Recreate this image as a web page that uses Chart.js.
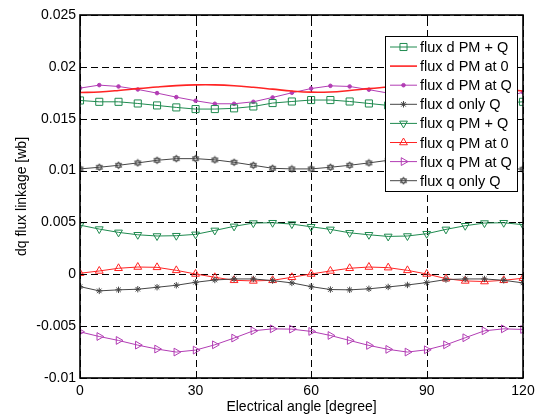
<!DOCTYPE html>
<html>
<head>
<meta charset="utf-8">
<script src="https://cdn.jsdelivr.net/npm/chart.js@4.4.0/dist/chart.umd.min.js"></script>
<style>
  html, body { margin: 0; padding: 0; background: #fff; }
</style>
</head>
<body>
<canvas id="fluxChart" width="541" height="417"></canvas>
<script>
// electrical angle of each sample [degree]
const angles = [0, 5, 10, 15, 20, 25, 30, 35, 40, 45, 50, 55,
                60, 65, 70, 75, 80, 85, 90, 95, 100, 105, 110, 115];

const fluxDPmQ = [0.01676, 0.01663, 0.01663, 0.01647, 0.01628, 0.01609, 0.01593, 0.01593, 0.01600, 0.01618, 0.01651, 0.01666,
                  0.01680, 0.01680, 0.01666, 0.01647, 0.01628, 0.01609, 0.01593, 0.01593, 0.01600, 0.01618, 0.01651, 0.01663];
const fluxDPm0 = [0.01753, 0.01758, 0.01772, 0.01790, 0.01806, 0.01819, 0.01826, 0.01826, 0.01818, 0.01803, 0.01785, 0.01767,
                  0.01756, 0.01758, 0.01772, 0.01790, 0.01806, 0.01819, 0.01826, 0.01826, 0.01818, 0.01803, 0.01785, 0.01767];
const fluxDPmAtQ = [0.01795, 0.01824, 0.01811, 0.01782, 0.01747, 0.01708, 0.01673, 0.01644, 0.01644, 0.01663, 0.01705, 0.01750,
                    0.01791, 0.01817, 0.01811, 0.01780, 0.01747, 0.01708, 0.01673, 0.01644, 0.01644, 0.01663, 0.01705, 0.01755];
const fluxDOnlyQ = [-0.00119, -0.00160, -0.00150, -0.00144, -0.00125, -0.00106, -0.00077, -0.00055, -0.00045, -0.00045, -0.00061, -0.00083,
                    -0.00119, -0.00147, -0.00150, -0.00140, -0.00122, -0.00103, -0.00080, -0.00051, -0.00045, -0.00045, -0.00058, -0.00083];
const fluxQPmQ = [0.00474, 0.00436, 0.00404, 0.00381, 0.00369, 0.00372, 0.00385, 0.00423, 0.00462, 0.00494, 0.00497, 0.00484,
                  0.00458, 0.00433, 0.00400, 0.00381, 0.00365, 0.00369, 0.00391, 0.00433, 0.00468, 0.00494, 0.00497, 0.00478];
const fluxQPm0 = [0.00010, 0.00032, 0.00058, 0.00070, 0.00067, 0.00038, 0.00003, -0.00029, -0.00058, -0.00064, -0.00058, -0.00029,
                  0.00003, 0.00032, 0.00058, 0.00070, 0.00064, 0.00038, 0.00003, -0.00042, -0.00064, -0.00070, -0.00058, -0.00038];
const fluxQPmAtQ = [-0.00555, -0.00600, -0.00638, -0.00683, -0.00721, -0.00750, -0.00731, -0.00680, -0.00615, -0.00545, -0.00526, -0.00529,
                    -0.00551, -0.00590, -0.00638, -0.00686, -0.00724, -0.00750, -0.00728, -0.00680, -0.00612, -0.00545, -0.00526, -0.00532];
const fluxQOnlyQ = [0.01016, 0.01032, 0.01051, 0.01074, 0.01099, 0.01115, 0.01115, 0.01103, 0.01080, 0.01051, 0.01022, 0.01016,
                    0.01016, 0.01032, 0.01051, 0.01074, 0.01099, 0.01115, 0.01115, 0.01103, 0.01080, 0.01051, 0.01022, 0.01013];

const xTickValues = [0, 30, 60, 90, 115];
const xTickLabels = ["0", "30", "60", "90", "120"];
const yTickValues = [-0.01, -0.005, 0, 0.005, 0.01, 0.015, 0.02, 0.025];
const yTickLabels = ["-0.01", "-0.005", "0", "0.005", "0.01", "0.015", "0.02", "0.025"];

const GREEN = "#1f8a4f";
const RED = "#ff2424";
const PURPLE = "#b23db4";
const GRAY = "#454545";
const FONT = "'Liberation Sans', Arial, sans-serif";

// small hexagram marker (matlab 'h')
function hexagram(color) {
    const c = document.createElement("canvas");
    c.width = 9; c.height = 9;
    const ctx = c.getContext("2d");
    ctx.strokeStyle = color;
    ctx.lineWidth = 1;
    [-Math.PI / 2, Math.PI / 2].forEach(a0 => {
        ctx.beginPath();
        for (let i = 0; i < 3; i++) {
            const a = a0 + i * 2 * Math.PI / 3;
            const x = 4.5 + 3.6 * Math.cos(a), y = 4.5 + 3.6 * Math.sin(a);
            if (i) ctx.lineTo(x, y); else ctx.moveTo(x, y);
        }
        ctx.closePath();
        ctx.stroke();
    });
    return c;
}

function series(label, values, color, style, extra) {
    return Object.assign({
        label: label,
        data: angles.map((a, i) => ({ x: a, y: values[i] })),
        borderColor: color,
        backgroundColor: "rgba(0,0,0,0)",
        pointBorderColor: color,
        pointBackgroundColor: "rgba(0,0,0,0)",
        borderWidth: 1,
        pointBorderWidth: 1,
        pointStyle: style,
        pointRadius: 4.5,
        tension: 0
    }, extra || {});
}

const datasets = [
    series("flux d PM + Q", fluxDPmQ, GREEN, "rect", { pointRadius: 5 }),
    series("flux d PM at 0", fluxDPm0, RED, false, { pointRadius: 0, borderWidth: 1.6, tension: 0.4 }),
    series("flux d PM at Q", fluxDPmAtQ, PURPLE, "circle", { pointRadius: 1.8, pointBackgroundColor: PURPLE }),
    series("flux d only Q", fluxDOnlyQ, GRAY, "star", { pointRadius: 3.2 }),
    series("flux q PM + Q", fluxQPmQ, GREEN, "triangle", { pointRotation: 180 }),
    series("flux q PM at 0", fluxQPm0, RED, "triangle"),
    series("flux q PM at Q", fluxQPmAtQ, PURPLE, "triangle", { pointRotation: 90 }),
    series("flux q only Q", fluxQOnlyQ, GRAY, hexagram(GRAY), { pointRadius: 4 })
];

// dashed grid behind the data
const gridPlugin = {
    id: "dashGrid",
    beforeDatasetsDraw(chart) {
        const { ctx, chartArea: a, scales } = chart;
        ctx.save();
        ctx.strokeStyle = "#000";
        ctx.lineWidth = 1;
        ctx.setLineDash([7, 4]);
        xTickValues.forEach(v => {
            const px = Math.round(scales.x.getPixelForValue(v)) + 0.5;
            ctx.beginPath();
            ctx.moveTo(px, a.bottom); ctx.lineTo(px, a.top);
            ctx.stroke();
        });
        yTickValues.forEach(v => {
            const py = Math.round(scales.y.getPixelForValue(v)) + 0.5;
            ctx.beginPath();
            ctx.moveTo(a.left, py); ctx.lineTo(a.right, py);
            ctx.stroke();
        });
        ctx.restore();
    }
};

// frame with inward ticks, like the matlab axes box
const framePlugin = {
    id: "frame",
    afterDatasetsDraw(chart) {
        const { ctx, chartArea: a, scales } = chart;
        ctx.save();
        ctx.strokeStyle = "#000";
        ctx.lineWidth = 1;
        xTickValues.forEach(v => {
            const px = Math.round(scales.x.getPixelForValue(v)) + 0.5;
            ctx.beginPath();
            ctx.moveTo(px, a.bottom); ctx.lineTo(px, a.bottom - 5);
            ctx.moveTo(px, a.top); ctx.lineTo(px, a.top + 5);
            ctx.stroke();
        });
        yTickValues.forEach(v => {
            const py = Math.round(scales.y.getPixelForValue(v)) + 0.5;
            ctx.beginPath();
            ctx.moveTo(a.left, py); ctx.lineTo(a.left + 5, py);
            ctx.moveTo(a.right, py); ctx.lineTo(a.right - 5, py);
            ctx.stroke();
        });
        ctx.lineWidth = 1.6;
        ctx.strokeRect(a.left, a.top, a.right - a.left, a.bottom - a.top);
        ctx.restore();
    }
};

// legend box in the upper right corner of the axes
const legendPlugin = {
    id: "boxLegend",
    afterDraw(chart) {
        const { ctx, chartArea: a } = chart;
        const sets = chart.data.datasets;
        const rowH = 19.1;
        const boxW = 132, boxH = 155;
        const left = a.right - 6 - boxW, top = a.top + 21;
        ctx.save();
        ctx.fillStyle = "#fff";
        ctx.fillRect(left, top, boxW, boxH);
        ctx.strokeStyle = "#000";
        ctx.lineWidth = 1;
        ctx.strokeRect(left + 0.5, top + 0.5, boxW, boxH);
        ctx.font = "14.5px " + FONT;
        ctx.textBaseline = "middle";
        sets.forEach((ds, i) => {
            const y = top + 11 + i * rowH;
            const x0 = left + 5, x1 = left + 32;
            ctx.strokeStyle = ds.borderColor;
            ctx.lineWidth = ds.borderWidth;
            ctx.beginPath();
            ctx.moveTo(x0, y); ctx.lineTo(x1, y);
            ctx.stroke();
            if (ds.pointStyle && ds.pointRadius > 0) {
                ctx.fillStyle = ds.pointBackgroundColor;
                ctx.strokeStyle = ds.pointBorderColor;
                ctx.lineWidth = 1;
                Chart.helpers.drawPoint(ctx, {
                    pointStyle: ds.pointStyle,
                    rotation: ds.pointRotation || 0,
                    radius: ds.pointRadius,
                    borderWidth: 1
                }, (x0 + x1) / 2, y);
            }
            ctx.fillStyle = "#000";
            ctx.fillText(ds.label, left + 35, y + 1);
        });
        ctx.restore();
    }
};

new Chart(document.getElementById("fluxChart"), {
    type: "line",
    data: { datasets: datasets },
    plugins: [gridPlugin, framePlugin, legendPlugin],
    options: {
        responsive: false,
        animation: false,
        layout: { padding: { top: 15, right: 18, left: 0, bottom: 0 } },
        plugins: { legend: { display: false }, tooltip: { enabled: false } },
        scales: {
            x: {
                type: "linear",
                min: 0,
                max: 115,
                afterBuildTicks: s => { s.ticks = xTickValues.map(v => ({ value: v })); },
                afterFit: s => { s.height = 39; },
                ticks: {
                    color: "#000",
                    font: { size: 14, family: FONT },
                    padding: 5,
                    maxRotation: 0,
                    callback: v => xTickLabels[xTickValues.indexOf(v)]
                },
                grid: { display: false, drawTicks: false, tickLength: 0 },
                border: { display: false },
                title: {
                    display: true,
                    text: "Electrical angle [degree]",
                    color: "#000",
                    font: { size: 14, family: FONT },
                    padding: { top: 0, bottom: 1 }
                }
            },
            y: {
                min: -0.01,
                max: 0.025,
                afterBuildTicks: s => { s.ticks = yTickValues.map(v => ({ value: v })); },
                afterFit: s => { s.width = 80; },
                ticks: {
                    color: "#000",
                    font: { size: 14, family: FONT },
                    padding: 4,
                    callback: v => yTickLabels[yTickValues.findIndex(t => Math.abs(t - v) < 1e-9)]
                },
                grid: { display: false, drawTicks: false, tickLength: 0 },
                border: { display: false },
                title: {
                    display: true,
                    text: "dq flux linkage [wb]",
                    color: "#000",
                    font: { size: 14, family: FONT },
                    padding: { top: 14, bottom: 0 }
                }
            }
        }
    }
});
</script>
</body>
</html>
